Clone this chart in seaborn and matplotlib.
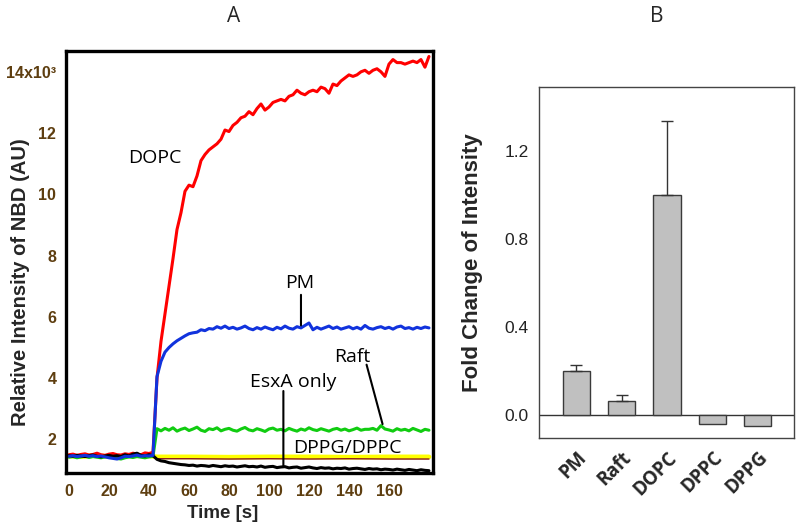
import numpy as np
import pandas as pd
import matplotlib
matplotlib.use("Agg")
import matplotlib.pyplot as plt
import seaborn as sns

sns.set_theme(style="white")
plt.rcParams['font.family'] = ['Liberation Sans', 'DejaVu Sans']

# ---------------- Panel A data (time in s, intensity in 10^3 AU) ----------------
time = list(range(0, 181, 2))

dopc = [1.50, 1.52, 1.48, 1.51, 1.53, 1.49, 1.51, 1.55, 1.50, 1.48, 1.52, 1.54, 1.50, 1.49, 1.53, 1.51,
        1.55, 1.52, 1.50, 1.56, 1.54, 1.58,
        4.00, 5.20, 6.10, 7.00, 7.90, 8.85, 9.40, 10.10, 10.30, 10.25, 10.60, 11.10, 11.30, 11.45, 11.55,
        11.65, 11.80, 12.10, 12.05, 12.25, 12.35, 12.50, 12.55, 12.70,
        12.60, 12.80, 12.95, 12.75, 12.85, 13.00, 13.05, 13.10, 13.05, 13.20, 13.25, 13.40, 13.30, 13.25,
        13.35, 13.40, 13.35, 13.50, 13.45, 13.30, 13.60, 13.55, 13.70, 13.80, 13.90, 13.85, 13.90, 14.00,
        14.05, 13.95, 14.05, 14.10, 14.00, 13.85, 14.25, 14.40, 14.30, 14.30, 14.25, 14.30, 14.35, 14.30,
        14.40, 14.15, 14.50]

pm = [1.45, 1.47, 1.44, 1.46, 1.48, 1.45, 1.47, 1.44, 1.46, 1.43, 1.40, 1.38, 1.36, 1.40, 1.45, 1.44,
      1.46, 1.49, 1.45, 1.47, 1.46, 1.48,
      4.05, 4.55, 4.85, 5.00, 5.12, 5.22, 5.30, 5.38, 5.45, 5.48, 5.50, 5.58, 5.55, 5.62, 5.60, 5.68,
      5.63, 5.70, 5.62, 5.66, 5.60, 5.64, 5.70, 5.62,
      5.58, 5.65, 5.60, 5.67, 5.62, 5.58, 5.66, 5.61, 5.70, 5.63, 5.60, 5.68, 5.64, 5.72, 5.80,
      5.58, 5.66, 5.60, 5.65, 5.70, 5.62, 5.67, 5.60, 5.64, 5.68, 5.61, 5.66, 5.60, 5.72, 5.63,
      5.60, 5.65, 5.68, 5.62, 5.66, 5.60, 5.67, 5.70, 5.62, 5.65, 5.60, 5.66, 5.62, 5.67, 5.64]

raft = [1.42, 1.44, 1.40, 1.43, 1.45, 1.41, 1.44, 1.42, 1.40, 1.43, 1.45, 1.42, 1.38, 1.36, 1.40, 1.43,
        1.41, 1.44, 1.42, 1.40, 1.43, 1.45,
        2.35, 2.28, 2.36, 2.30, 2.38, 2.27, 2.33, 2.37, 2.29, 2.34, 2.40, 2.30, 2.26, 2.35, 2.32, 2.38,
        2.28, 2.33, 2.36, 2.30, 2.27, 2.34, 2.39, 2.31,
        2.28, 2.35, 2.31, 2.26, 2.34, 2.37, 2.30, 2.33, 2.28, 2.36, 2.31, 2.27, 2.34, 2.30, 2.38,
        2.32, 2.29, 2.35, 2.31, 2.27, 2.33, 2.36, 2.30, 2.34, 2.28, 2.32, 2.37, 2.30, 2.33, 2.33,
        2.36, 2.30, 2.45, 2.34, 2.31, 2.27, 2.35, 2.30, 2.33, 2.28, 2.36, 2.31, 2.26, 2.33, 2.30]

esxa = [1.47, 1.45, 1.48, 1.46, 1.44, 1.47, 1.49, 1.45, 1.43, 1.46, 1.48, 1.45, 1.47, 1.44, 1.50, 1.46,
        1.52, 1.55, 1.48, 1.46, 1.50, 1.47,
        1.35, 1.30, 1.28, 1.24, 1.22, 1.20, 1.18, 1.17, 1.15, 1.16, 1.13, 1.15, 1.14, 1.12, 1.15, 1.13,
        1.11, 1.14, 1.12, 1.13, 1.10, 1.12, 1.14, 1.11,
        1.12, 1.10, 1.13, 1.09, 1.11, 1.12, 1.08, 1.10, 1.11, 1.07, 1.09, 1.10, 1.06, 1.08, 1.10,
        1.07, 1.05, 1.08, 1.06, 1.07, 1.04, 1.06, 1.05, 1.07, 1.03, 1.05, 1.06, 1.04, 1.02, 1.05,
        1.03, 1.04, 1.01, 1.03, 1.02, 1.00, 1.03, 1.01, 0.99, 1.02, 1.00, 0.98, 1.01, 0.99, 0.98]

dppg_time = [0, 6, 12, 18, 24, 30, 36, 42, 44, 60, 80, 100, 120, 140, 160, 180]
dppg = [1.46, 1.44, 1.47, 1.45, 1.43, 1.46, 1.48, 1.45, 1.43, 1.43, 1.42, 1.43, 1.43, 1.42, 1.43, 1.43]

dppc_time = [44, 60, 80, 100, 120, 140, 160, 180]
dppc = [1.37, 1.37, 1.36, 1.37, 1.36, 1.37, 1.36, 1.36]

# ---------------- Panel B data ----------------
lipids = ["PM", "Raft", "DOPC", "DPPC", "DPPG"]
fold_change = [0.20, 0.065, 1.00, -0.042, -0.050]
fold_err = [0.026, 0.025, 0.335, 0.0, 0.0]

fig = plt.figure(figsize=(8.0, 5.31), dpi=100)
axA = fig.add_axes([0.0825, 0.109, 0.4587, 0.795])
axB = fig.add_axes([0.674, 0.175, 0.319, 0.661])

# ---------------- Panel A ----------------
sns.lineplot(x=dppg_time, y=dppg, ax=axA, color="#FFFF00", lw=3.4, estimator=None)
sns.lineplot(x=dppc_time, y=dppc, ax=axA, color="#8B1A1A", lw=1.0, estimator=None)
sns.lineplot(x=time, y=dopc, ax=axA, color="#FF0000", lw=2.2, estimator=None)
sns.lineplot(x=time, y=raft, ax=axA, color="#11CC11", lw=2.2, estimator=None)
sns.lineplot(x=time, y=esxa, ax=axA, color="#000000", lw=2.2, estimator=None)
sns.lineplot(x=time, y=pm, ax=axA, color="#1133DD", lw=2.2, estimator=None)

axA.set_xlim(-1.5, 182)
axA.set_ylim(0.9, 14.68)
axA.set_xticks(range(0, 161, 20))
axA.set_yticks([2, 4, 6, 8, 10, 12, 14])
tick_color = "#5E3E10"
axA.set_xticklabels([str(v) for v in range(0, 161, 20)], fontweight="bold", fontsize=11.5, color=tick_color)
axA.set_yticklabels(["2", "4", "6", "8", "10", "12", "14x10³"], fontweight="bold", fontsize=11.5, color=tick_color)
axA.tick_params(axis="both", direction="in", length=9, width=2.5, color="black")
axA.tick_params(axis="y", pad=7)
axA.tick_params(axis="x", pad=8)
for s in axA.spines.values():
    s.set_visible(True)
    s.set_color("black")
    s.set_linewidth(2.4)
axA.set_xlabel("Time [s]", fontweight="bold", fontsize=13.5)
axA.set_ylabel("Relative Intensity of NBD (AU)", fontweight="bold", fontsize=14.5)
axA.xaxis.set_label_coords(0.428, -0.075)
axA.yaxis.set_label_coords(-0.097, 0.453)

ann_font = dict(fontsize=14, family=["Open Sans", "DejaVu Sans"], color="black")
axA.text(43, 11.18, "DOPC", ha="center", va="center", **ann_font)
axA.text(115.5, 7.1, "PM", ha="center", va="center", **ann_font)
axA.text(141.5, 4.68, "Raft", ha="center", va="center", **ann_font)
axA.text(112, 3.87, "EsxA only", ha="center", va="center", **ann_font)
axA.text(139, 1.72, "DPPG/DPPC", ha="center", va="center", **ann_font)
lp = dict(arrowstyle="-", color="black", lw=1.5, shrinkA=0, shrinkB=0)
axA.annotate("", xy=(116, 5.72), xytext=(116, 6.72), arrowprops=lp)
axA.annotate("", xy=(156.8, 2.50), xytext=(148.8, 4.44), arrowprops=lp)
axA.annotate("", xy=(107.2, 1.12), xytext=(107.2, 3.58), arrowprops=lp)

# ---------------- Panel B ----------------
sns.barplot(x=lipids, y=fold_change, ax=axB, color="#C0C0C0", edgecolor="#3A3A3A",
            linewidth=1.0, width=0.6, saturation=1)
idx = [i for i, e in enumerate(fold_err) if e > 0]
axB.errorbar(idx, [fold_change[i] for i in idx],
             yerr=[[0] * len(idx), [fold_err[i] for i in idx]], fmt="none",
             ecolor="#333333", elinewidth=1.0, capsize=4.5, capthick=1.0)
axB.axhline(0, color="#333333", lw=1.0, zorder=0.5)
axB.set_xlim(-0.82, 4.81)
axB.set_ylim(-0.105, 1.49)
axB.set_yticks([0.0, 0.4, 0.8, 1.2])
axB.set_yticklabels(["0.0", "0.4", "0.8", "1.2"], fontsize=12.5, color="#222222")
axB.set_xticks(range(len(lipids)))
axB.set_xticklabels(lipids, rotation=45, ha="right", rotation_mode="anchor",
                    fontweight="bold", fontsize=13.5, family=["Open Sans", "DejaVu Sans"])
axB.tick_params(axis="both", direction="out", length=4, width=1, color="#333333")
axB.tick_params(axis="x", pad=3)
for s in axB.spines.values():
    s.set_visible(True)
    s.set_color("#444444")
    s.set_linewidth(1.0)
axB.set_xlabel("")
axB.set_ylabel("Fold Change of Intensity", fontweight="bold", fontsize=16)
axB.yaxis.set_label_coords(-0.22, 0.5)

fig.text(234 / 800, 1 - 17 / 531, "A", ha="center", va="center", fontsize=15,
         family=["Open Sans", "DejaVu Sans"])
fig.text(657 / 800, 1 - 17 / 531, "B", ha="center", va="center", fontsize=15,
         family=["Open Sans", "DejaVu Sans"])

fig.savefig("out.png", dpi=100)
